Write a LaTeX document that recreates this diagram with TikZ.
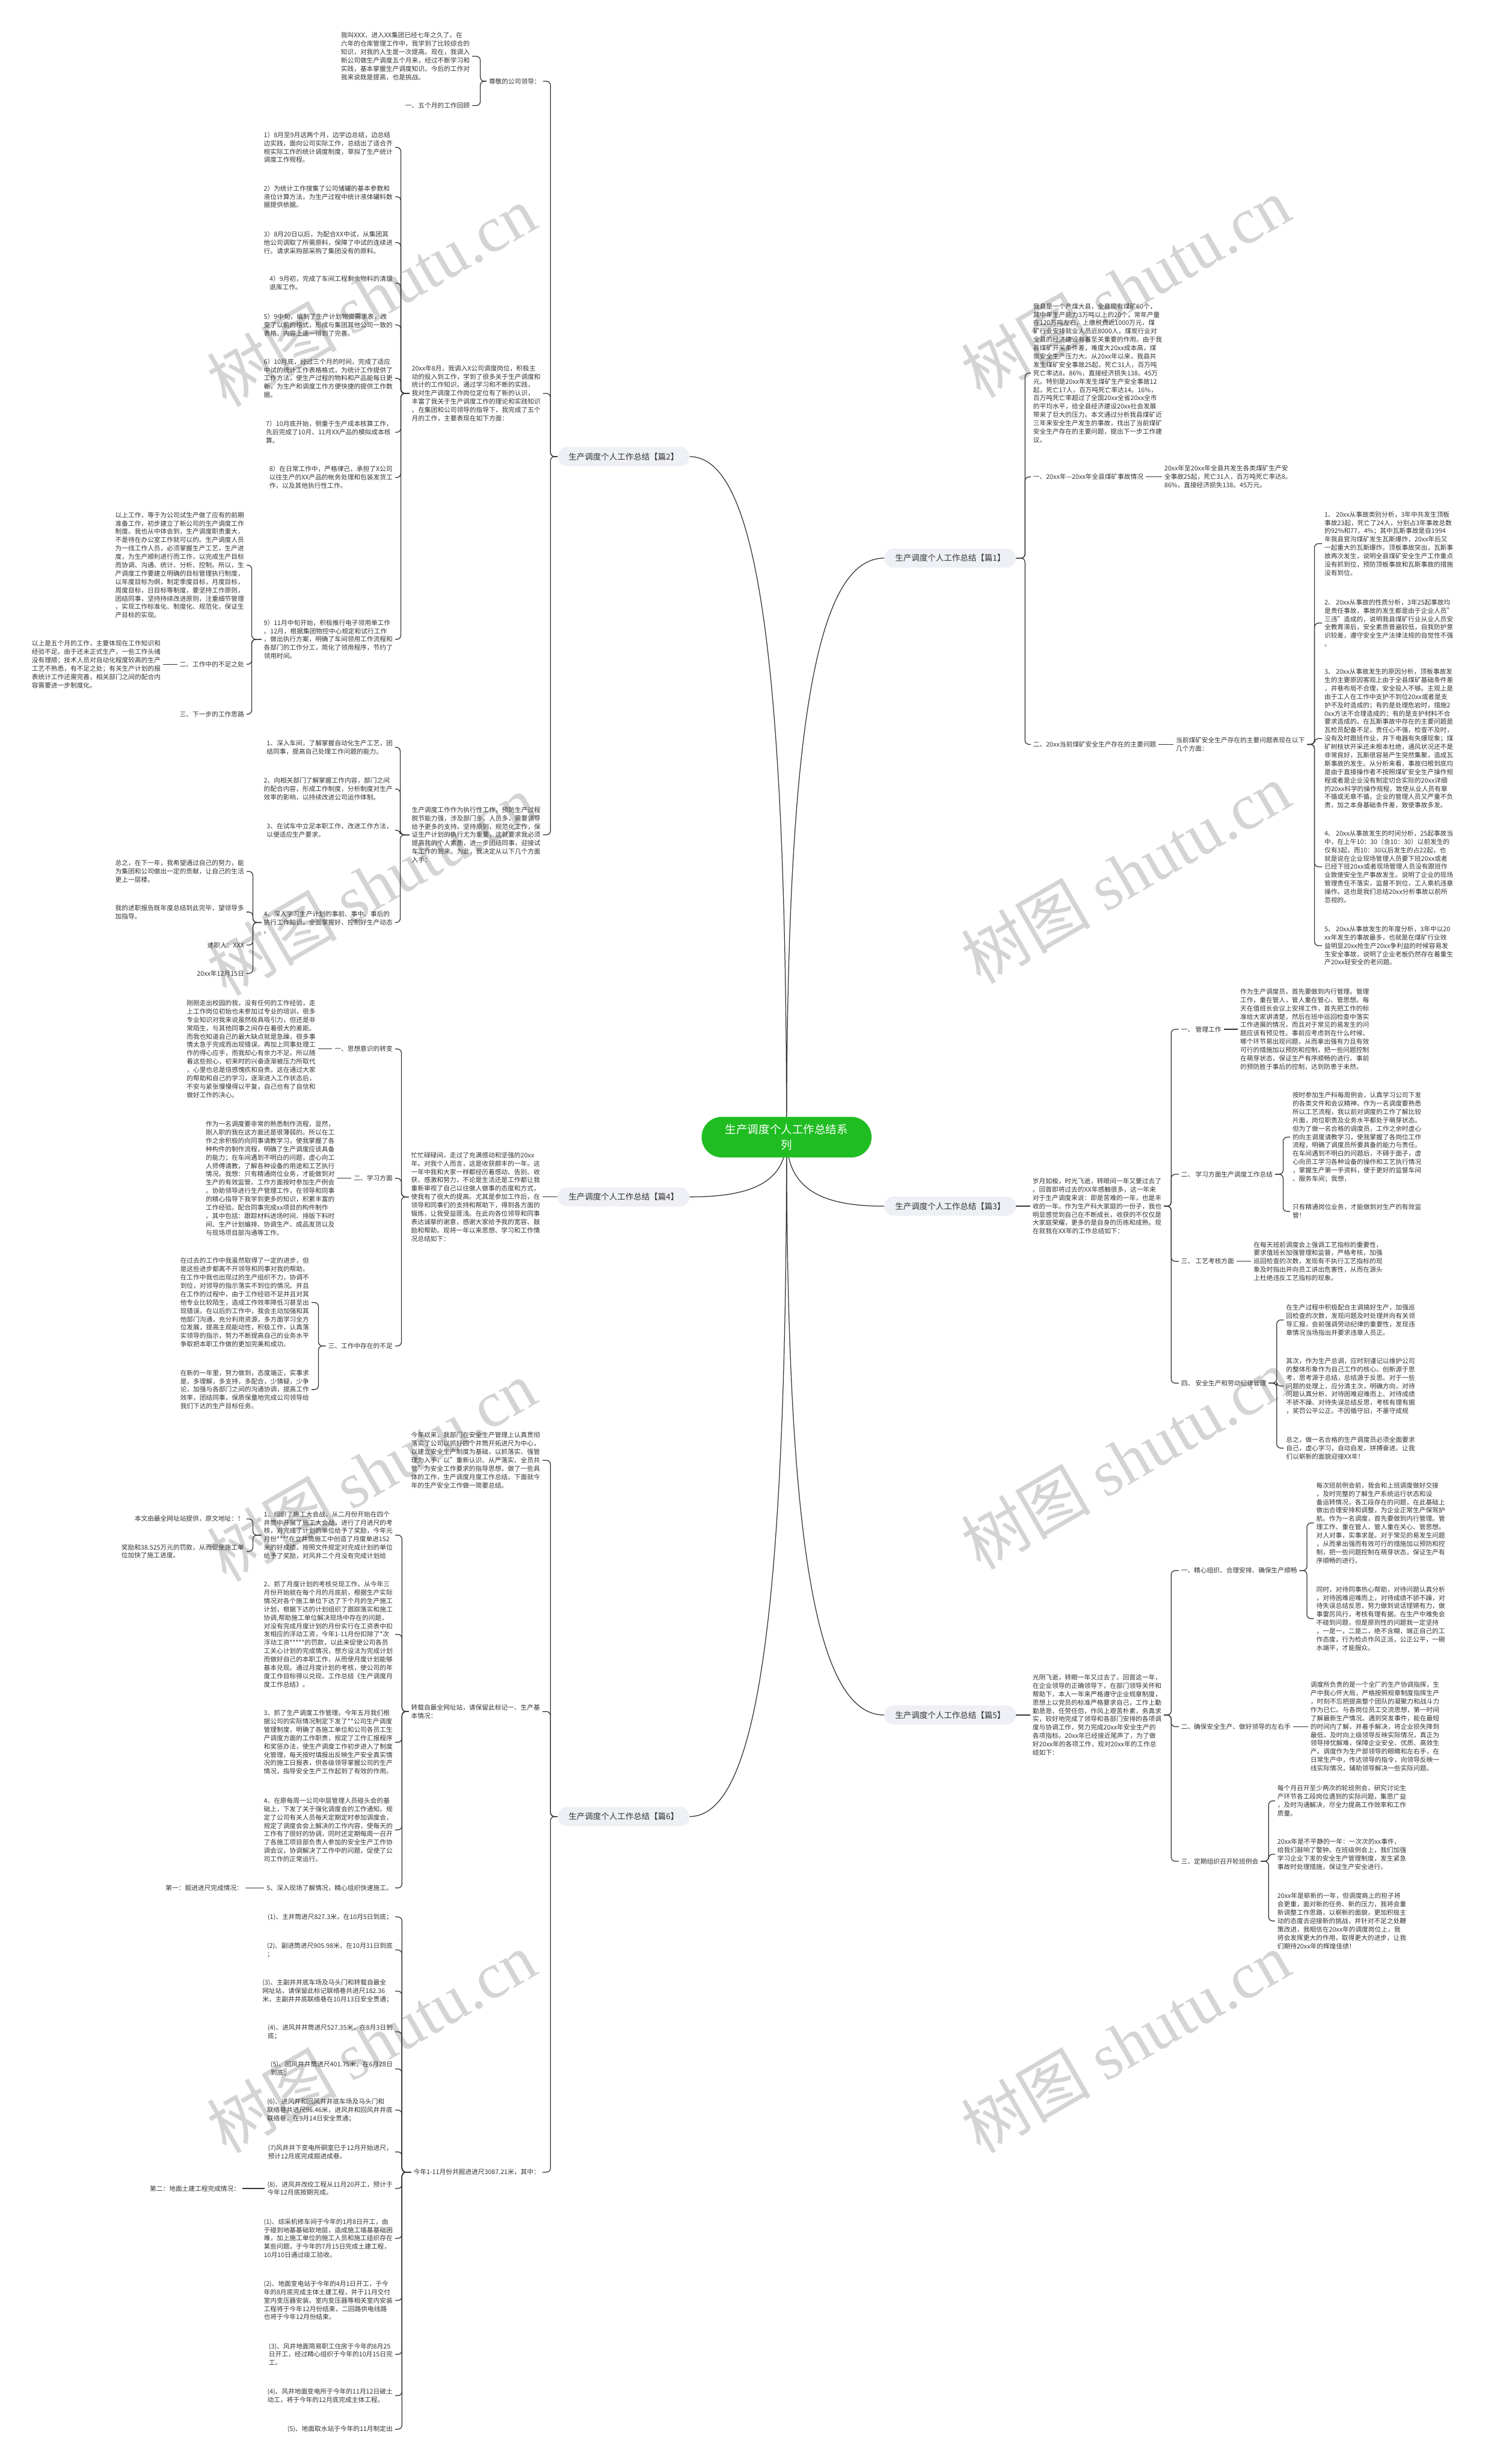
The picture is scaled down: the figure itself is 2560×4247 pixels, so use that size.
\documentclass[tikz,border=0pt]{standalone}
\usepackage{fontspec}
\setmainfont{Noto Sans CJK SC}
\newfontfamily\wmserif{Liberation Serif}
\usetikzlibrary{calc,backgrounds}
\definecolor{tc}{HTML}{333333}
\definecolor{lc}{HTML}{333333}
\definecolor{lonefill}{HTML}{EEF0F5}
\definecolor{cgreen}{HTML}{1FBD22}
\definecolor{wmc}{HTML}{D4D4D4}
\tikzset{
  txt/.style={font=\fontsize{11.1}{14.4}\selectfont, text=tc, align=left, inner xsep=4pt, inner ysep=1pt},
  lvlone/.style={rounded corners=16pt, fill=lonefill, minimum width=227pt, minimum height=33pt, font=\fontsize{14}{16}\selectfont, text=tc, inner sep=0pt},
  rootnode/.style={rounded corners=35pt, fill=cgreen, minimum width=293pt, minimum height=70pt, font=\fontsize{19.2}{27}\selectfont, text=white, align=center},
  conn/.style={draw=lc, line width=1.3pt, rounded corners=7pt},
  curveline/.style={draw=lc, line width=1.3pt},
  wmark/.style={text=wmc, rotate=30, inner sep=0pt}
}
\newcommand\lconn[3]{\draw[conn] (#1.west) -- (#1.west -| #3) |- (#2.east);}
\newcommand\rconn[3]{\draw[conn] (#1.east) -- (#1.east -| #3) |- (#2.west);}
\newcommand\wmtext{{\fontsize{112}{112}\selectfont 树图 {\wmserif shutu.cn}}}
\begin{document}
\begin{tikzpicture}[x=1pt,y=-1pt]
\useasboundingbox (0,0) rectangle (2560,4247);
% bracket x coordinates
\coordinate (b2) at (949,0);
\coordinate (ba1) at (828,0);
\coordinate (ba2) at (691,0);
\coordinate (bi9) at (434,0);
\coordinate (ba3) at (690,0);
\coordinate (bc4) at (436,0);
\coordinate (bp4) at (692,0);
\coordinate (bk3) at (549,0);
\coordinate (b6) at (949,0);
\coordinate (bq2) at (693,0);
\coordinate (br1) at (436,0);
\coordinate (bq3) at (693,0);
\coordinate (b1) at (1767,0);
\coordinate (be3) at (2266,0);
\coordinate (bg) at (2019,0);
\coordinate (bg2) at (2212,0);
\coordinate (bg4) at (2201,0);
\coordinate (bh) at (2019,0);
\coordinate (bh1) at (2253,0);
\coordinate (bh3) at (2187,0);

% ---------- main nodes ----------
\node[rootnode] (C) at (1356,1960) {生产调度个人工作总结系\\列};
\node[lvlone] (L2) at (1075,787) {生产调度个人工作总结【篇2】};
\node[lvlone] (L4) at (1075,2063) {生产调度个人工作总结【篇4】};
\node[lvlone] (L6) at (1075,3131) {生产调度个人工作总结【篇6】};
\node[lvlone] (R1) at (1638,962) {生产调度个人工作总结【篇1】};
\node[lvlone] (R3) at (1638,2079) {生产调度个人工作总结【篇3】};
\node[lvlone] (R5) at (1638,2956) {生产调度个人工作总结【篇5】};

% ---------- 篇2 ----------
\node[txt,anchor=east] (a1) at (936,140) {尊敬的公司领导：};
\node[txt,anchor=east] (a2) at (936,678) {20xx年8月，我调入X公司调度岗位，积极主\\动的投入到工作，学到了很多关于生产调度和\\统计的工作知识。通过学习和不断的实践，\\我对生产调度工作岗位定位有了新的认识，\\丰富了我关于生产调度工作的理论和实践知识\\。在集团和公司领导的指导下，我完成了五个\\月的工作，主要表现在如下方面：};
\node[txt,anchor=east] (a3) at (936,1439) {生产调度工作作为执行性工作，预防生产过程\\脱节能力强，涉及部门多，人员多，需要领导\\给予更多的支持。坚持原则，规范化工作，保\\证生产计划的执行尤为重要，这就要求我必须\\提高我的个人素质，进一步团结同事，迎接试\\车工作的到来。为此，我决定从以下几个方面\\入手：};
\node[txt,anchor=east] (a1a) at (814,97) {我叫XXX，进入XX集团已经七年之久了。在\\六年的仓库管理工作中，我学到了比较综合的\\知识，对我的人生是一次提高。现在，我调入\\新公司做生产调度五个月来，经过不断学习和\\实践，基本掌握生产调度知识。今后的工作对\\我来说既是提高，也是挑战。};
\node[txt,anchor=east] (a1b) at (814,182) {一、五个月的工作回顾};
\node[txt,anchor=east] (i1) at (681,254) {1）8月至9月这两个月，边学边总结，边总结\\边实践，面向公司实际工作，总结出了适合齐\\桓实际工作的统计调度制度，草拟了生产统计\\调度工作规程。};
\node[txt,anchor=east] (i2) at (681,339) {2）为统计工作搜集了公司储罐的基本参数和\\液位计算方法，为生产过程中统计液体罐料数\\据提供依据。};
\node[txt,anchor=east] (i3) at (681,418) {3）8月20日以后，为配合XX中试，从集团其\\他公司调取了所需原料，保障了中试的连续进\\行。请求采购部采购了集团没有的原料。};
\node[txt,anchor=east] (i4) at (681,488) {4）9月初，完成了车间工程剩余物料的清理\\退库工作。};
\node[txt,anchor=east] (i5) at (681,560) {5）9中旬，编制了生产计划物资需求表，改\\变了以前的格式，形成与集团其他公司一致的\\表格。内容上逐一得到了完善。};
\node[txt,anchor=east] (i6) at (681,652) {6）10月底，经过三个月的时间，完成了适应\\中试的统计工作表格格式，为统计工作提供了\\工作方法，使生产过程的物料和产品能每日更\\新，为生产和调度工作方便快捷的提供工作数\\据。};
\node[txt,anchor=east] (i7) at (681,745) {7）10月底开始，侧重于生产成本核算工作，\\先后完成了10月、11月XX产品的模拟成本核\\算。};
\node[txt,anchor=east] (i8) at (681,823) {8）在日常工作中，严格律己，承担了X公司\\以往生产的XX产品的帐务处理和包装发货工\\作，以及其他执行性工作。};
\node[txt,anchor=east] (i9) at (681,1102) {9）11月中旬开始，积极推行电子领用单工作\\。12月，根据集团物控中心规定和试行工作\\，做出执行方案，明确了车间领用工作流程和\\各部门的工作分工，简化了领用程序，节约了\\领用时间。};
\node[txt,anchor=east] (j1) at (425,974) {以上工作，等于为公司试生产做了应有的前期\\准备工作，初步建立了新公司的生产调度工作\\制度。我也从中体会到，生产调度职责重大，\\不是待在办公室工作就可以的。生产调度人员\\为一线工作人员，必须掌握生产工艺，生产进\\度，为生产顺利进行而工作，以完成生产目标\\而协调、沟通、统计、分析、控制。所以，生\\产调度工作要建立明确的目标管理执行制度，\\以年度目标为纲，制定季度目标，月度目标，\\周度目标，日目标等制度，要坚持工作原则，\\团结同事，坚持持续改进原则，注重细节管理\\，实现工作标准化、制度化、规范化，保证生\\产目标的实现。};
\node[txt,anchor=east] (j2) at (425,1145) {二、工作中的不足之处};
\node[txt,anchor=east] (j3) at (425,1231) {三、下一步的工作思路};
\node[txt,anchor=east] (j2a) at (281,1145) {以上是五个月的工作，主要体现在工作知识和\\经验不足。由于还未正式生产，一些工作头绪\\没有理顺；技术人员对自动化程度较高的生产\\工艺不熟悉，有不足之处；有关生产计划的报\\表统计工作还需完善，相关部门之间的配合内\\容需要进一步制度化。};
\node[txt,anchor=east] (c1) at (681,1288) {1、深入车间，了解掌握自动化生产工艺，团\\结同事，提高自己处理工作问题的能力。};
\node[txt,anchor=east] (c2) at (681,1360) {2、向相关部门了解掌握工作内容，部门之间\\的配合内容，形成工作制度，分析制度对生产\\效率的影响，以持续改进公司运作体制。};
\node[txt,anchor=east] (c3) at (681,1431) {3、在试车中立足本职工作，改进工作方法，\\以便适应生产要求。};
\node[txt,anchor=east] (c4) at (681,1590) {4、深入学习生产计划的事前、事中、事后的\\执行工作知识，全面掌握好、控制好生产动态\\。};
\node[txt,anchor=east] (d1) at (425,1502) {总之，在下一年，我希望通过自己的努力，能\\为集团和公司做出一定的贡献，让自己的生活\\更上一层楼。};
\node[txt,anchor=east] (d2) at (425,1572) {我的述职报告既年度总结到此完毕，望领导多\\加指导。};
\node[txt,anchor=east] (d3) at (425,1629) {述职人：XXX};
\node[txt,anchor=east] (d4) at (425,1678) {20xx年12月15日};

% ---------- 篇4 ----------
\node[txt,anchor=east] (p4) at (935,2063) {忙忙碌碌间，走过了充满感动和坚强的20xx\\年。对我个人而言，这是收获颇丰的一年。这\\一年中我和大家一样都经历着感动、告别、收\\获、感激和努力，不论是生活还是工作都让我\\重新审视了自己以往做人做事的态度和方式，\\使我有了很大的提高。尤其是参加工作后，在\\领导和同事们的支持和帮助下，得到各方面的\\锻炼，让我受益匪浅。在此向各位领导和同事\\表达诚挚的谢意，感谢大家给予我的宽容、鼓\\励和帮助。现将一年以来思想、学习和工作情\\况总结如下：};
\node[txt,anchor=east] (k1) at (681,1808) {一、思想意识的转变};
\node[txt,anchor=east] (k2) at (681,2031) {二、学习方面};
\node[txt,anchor=east] (k3) at (681,2320) {三、工作中存在的不足};
\node[txt,anchor=east] (k1a) at (548,1808) {刚刚走出校园的我，没有任何的工作经验，走\\上工作岗位初始也未参加过专业的培训，很多\\专业知识对我来说虽然极具吸引力，但还是非\\常陌生，与其他同事之间存在着很大的差距。\\而我也知道自己的最大缺点就是急躁，很多事\\情太急于完成而出现错误。再加上同事处理工\\作的得心应手，而我却心有余力不足。所以随\\着这些担心，初来时的兴奋逐渐被压力所取代\\，心里也总是倍感愧疚和自责。这在通过大家\\的帮助和自己的学习，逐渐进入工作状态后，\\不安与紧张慢慢得以平复，自己也有了自信和\\做好工作的决心。};
\node[txt,anchor=east] (k2a) at (581,2031) {作为一名调度要非常的熟悉制作流程，显然，\\刚入职的我在这方面还是很薄弱的。所以在工\\作之余积极的向同事请教学习，使我掌握了各\\种构件的制作流程，明确了生产调度应该具备\\的能力；在车间遇到不明白的问题，虚心向工\\人师傅请教，了解各种设备的用途和工艺执行\\情况。我想：只有精通岗位业务，才能做到对\\生产的有效监管。工作方面按时参加生产例会\\。协助领导进行生产管理工作，在领导和同事\\的精心指导下我学到更多的知识，积累丰富的\\工作经验。配合同事完成xx项目的构件制作\\。其中包括：跟踪材料进场时间、排版下料时\\间、生产计划编排、协调生产、成品发货以及\\与现场项目部沟通等工作。};
\node[txt,anchor=east] (k3a) at (537,2245) {在过去的工作中我虽然取得了一定的进步，但\\是这些进步都离不开领导和同事对我的帮助。\\在工作中我也出现过的生产组织不力，协调不\\到位，对领导的指示落实不到位的情况。并且\\在工作的过程中，由于工作经验不足并且对其\\他专业比较陌生，造成工作效率降低习甚至出\\现错误。在以后的工作中，我会主动加强和其\\他部门沟通，充分利用资源，多方面学习全方\\位发展，提高主观能动性，积极工作，认真落\\实领导的指示，努力不断提高自己的业务水平\\争取把本职工作做的更加完美和成功。};
\node[txt,anchor=east] (k3b) at (537,2395) {在新的一年里，努力做到，态度端正，实事求\\是，多理解，多支持，多配合，少猜疑，少争\\论，加强与各部门之间的沟通协调，提高工作\\效率，团结同事，保质保量地完成公司领导给\\我们下达的生产目标任务。};

% ---------- 篇6 ----------
\node[txt,anchor=east] (q1) at (935,2517) {今年以来，我部门在安全生产管理上认真贯彻\\落实了公司以抓好四个井筒开拓进尺为中心，\\以建立安全生产制度为基础，以抓落实、强管\\理为入手，以"重新认识、从严落实、全员共\\管"为安全工作要求的指导思想，做了一些具\\体的工作，生产调度月度工作总结。下面就今\\年的生产安全工作做一简要总结。};
\node[txt,anchor=east] (q2) at (935,2950) {转载自最全网址站，请保留此标记一、生产基\\本情况：};
\node[txt,anchor=east] (q3) at (935,3744) {今年1-11月份共掘进进尺3087.21米，其中：};
\node[txt,anchor=east] (r1) at (681,2646) {1、组织了施工大会战。从二月份开始在四个\\井筒中开展了施工大会战，进行了月进尺的考\\核，对完成了计划的单位给予了奖励，今年元\\月份****在立井筒施工中创造了月度单进152\\米的好成绩，按照文件规定对完成计划的单位\\给予了奖励，对风井二个月没有完成计划给};
\node[txt,anchor=east] (r2) at (681,2817) {2、抓了月度计划的考核兑现工作。从今年三\\月份开始就在每个月的月底前，根据生产实际\\情况对各个施工单位下达了下个月的生产施工\\计划，根据下达的计划组织了跟踪落实和施工\\协调,帮助施工单位解决现场中存在的问题，\\对没有完成月度计划的月份实行在工资表中扣\\发相应的浮动工资，今年1-11月份扣除了*次\\浮动工资*****的罚款，以此来促使公司各员\\工关心计划的完成情况，想方设法为完成计划\\而做好自己的本职工作，从而使月度计划能够\\基本兑现。通过月度计划的考核，使公司的年\\度工作目标得以兑现，工作总结《生产调度月\\度工作总结》。};
\node[txt,anchor=east] (r3) at (681,3003) {3、抓了生产调度工作管理。今年五月我们根\\据公司的实际情况制定下发了**公司生产调度\\管理制度，明确了各施工单位和公司各员工生\\产调度方面的工作职责，规定了工作汇报程序\\和奖惩办法，使生产调度工作初步进入了制度\\化管理，每天按时填报出反映生产安全真实情\\况的施工日报表，供各级领导掌握公司的生产\\情况，指导安全生产工作起到了有效的作用。};
\node[txt,anchor=east] (r4) at (681,3154) {4、在原每周一公司中层管理人员碰头会的基\\础上，下发了关于强化调度会的工作通知。规\\定了公司有关人员每天定期定时参加调度会，\\规定了调度会会上解决的工作内容，使每天的\\工作有了很好的协调，同时还定期每周一召开\\了各施工项目部负责人参加的安全生产工作协\\调会议，协调解决了工作中的问题，促使了公\\司工作的正常运行。};
\node[txt,anchor=east] (r5) at (681,3254) {5、深入现场了解情况，精心组织快速施工。};
\node[txt,anchor=east] (r1a) at (425,2618) {本文由最全网址站提供，原文地址：！};
\node[txt,anchor=east] (r1b) at (425,2674) {奖励和38.525万元的罚款，从而促使施工单\\位加快了施工进度。};
\node[txt,anchor=east] (r5a) at (423,3254) {第一：掘进进尺完成情况：};
\node[txt,anchor=east] (s1) at (681,3304) {(1)、主井筒进尺827.3米，在10月5日到底；};
\node[txt,anchor=east] (s2) at (681,3361) {(2)、副进筒进尺905.98米，在10月31日到底\\；};
\node[txt,anchor=east] (s3) at (681,3432) {(3)、主副井井底车场及马头门和转载自最全\\网址站，请保留此标记联络巷共进尺182.36\\米，主副井井底联络巷在10月13日安全贯通；};
\node[txt,anchor=east] (s4) at (681,3502) {(4)、进风井井筒进尺527.35米，在8月3日到\\底；};
\node[txt,anchor=east] (s5) at (681,3566) {(5)、回风井井筒进尺401.75米，在6月28日\\到底；};
\node[txt,anchor=east] (s6) at (681,3637) {(6)、进风井和回风井井底车场及马头门和\\联络巷共进尺96.46米，进风井和回风井井底\\联络巷，在9月14日安全贯通；};
\node[txt,anchor=east] (s7) at (681,3709) {(7)风井井下变电所硐室已于12月开始进尺，\\预计12月底完成掘进成巷。};
\node[txt,anchor=east] (s8) at (681,3772) {(8)、进风井改绞工程从11月20开工，预计于\\今年12月底按期完成。};
\node[txt,anchor=east] (s9) at (681,3858) {(1)、综采机修车间于今年的1月8日开工，由\\于碰到地基基础软地层，造成施工墙基基础困\\难，加上施工单位的施工人员和施工组织存在\\某些问题，于今年的7月15日完成土建工程，\\10月10日通过竣工验收。};
\node[txt,anchor=east] (s10) at (681,3965) {(2)、地面变电站于今年的4月1日开工，于今\\年的8月底完成主体土建工程，并于11月交付\\室内变压器安装。室内变压器等相关室内安装\\工程将于今年12月份结束，二回路供电线路\\也将于今年12月份结束。};
\node[txt,anchor=east] (s11) at (681,4058) {(3)、风井地面简易职工住房于今年的8月25\\日开工，经过精心组织于今年的10月15日完\\工。};
\node[txt,anchor=east] (s12) at (681,4129) {(4)、风井地面变电所于今年的11月12日破土\\动工，将于今年的12月底完成主体工程。};
\node[txt,anchor=east] (s13) at (681,4187) {(5)、地面取水站于今年的11月制定出};
\node[txt,anchor=east] (s8a) at (418,3772) {第二：地面土建工程完成情况：};

% ---------- 篇1 ----------
\node[txt,anchor=west] (e1) at (1777,643) {我县是一个产煤大县，全县现有煤矿60个，\\其中年生产能力3万吨以上的20个，常年产量\\在120万吨左右，上缴税费近1000万元，煤\\矿行业安排就业人员近8000人，煤炭行业对\\全县的经济建设有着至关重要的作用。由于我\\县煤矿开采条件差，难度大20xx成本高，煤\\炭安全生产压力大。从20xx年以来，我县共\\发生煤矿安全事故25起，死亡31人，百万吨\\死亡率达8。86\%，直接经济损失138。45万\\元。特别是20xx年发生煤矿生产安全事故12\\起，死亡17人，百万吨死亡率达14。16\%，\\百万吨死亡率超过了全国20xx全省20xx全市\\的平均水平，给全县经济建设20xx社会发展\\带来了巨大的压力。本文通过分析我县煤矿近\\三年来安全生产发生的事故，找出了当前煤矿\\安全生产存在的主要问题，提出下一步工作建\\议。};
\node[txt,anchor=west] (e2) at (1777,822) {一、20xx年—20xx年全县煤矿事故情况};
\node[txt,anchor=west] (e3) at (1777,1283) {二、20xx当前煤矿安全生产存在的主要问题};
\node[txt,anchor=west] (e2a) at (2003,822) {20xx年至20xx年全县共发生各类煤矿生产安\\全事故25起，死亡31人，百万吨死亡率达8。\\86\%，直接经济损失138。45万元。};
\node[txt,anchor=west] (e3a) at (2023,1283) {当前煤矿安全生产存在的主要问题表现在以下\\几个方面：};
\node[txt,anchor=west] (f1) at (2279,937) {1、 20xx从事故类别分析，3年中共发生顶板\\事故23起，死亡了24人，分别占3年事故总数\\的92\%和77。4\%；其中瓦斯事故是自1994\\年我县官沟煤矿发生瓦斯爆炸，20xx年后又\\一起重大的瓦斯爆炸。顶板事故突出，瓦斯事\\故再次发生，说明全县煤矿安全生产工作重点\\没有抓到位，预防顶板事故和瓦斯事故的措施\\没有到位。};
\node[txt,anchor=west] (f2) at (2279,1074) {2、 20xx从事故的性质分析，3年25起事故均\\是责任事故，事故的发生都是由于企业人员"\\三违"造成的，说明我县煤矿行业从业人员安\\全教育滞后，安全素质普遍较低，自我防护意\\识较差，遵守安全生产法律法规的自觉性不强\\。};
\node[txt,anchor=west] (f3) at (2279,1273) {3、 20xx从事故发生的原因分析，顶板事故发\\生的主要原因客观上由于全县煤矿基础条件差\\，井巷布局不合理，安全投入不够。主观上是\\由于工人在工作中支护不到位20xx或者是支\\护不及时造成的；有的是处理危岩时，措施2\\0xx方法不合理造成的；有的是支护材料不合\\要求造成的。在瓦斯事故中存在的主要问题是\\瓦检员配备不足，责任心不强，检查不及时，\\没有及时跟班作业，井下电器有失爆现象；煤\\矿树枝状开采还未根本杜绝，通风状况还不是\\非常良好，瓦斯很容易产生突然集聚，造成瓦\\斯事故的发生。从分析来看，事故归根到底均\\是由于直接操作者不按照煤矿安全生产操作规\\程或者是企业没有制定切合实际的20xx详细\\的20xx科学的操作规程，致使从业人员有章\\不循或无章不循，企业的管理人员又严重不负\\责，加之本身基础条件差，致使事故多发。};
\node[txt,anchor=west] (f4) at (2279,1494) {4、 20xx从事故发生的时间分析，25起事故当\\中，在上午10：30（含10：30）以前发生的\\仅有3起，而10：30以后发生的占22起，也\\就是说在企业现场管理人员要下班20xx或者\\已经下班20xx或者现场管理人员没有跟班作\\业致使安全生产事故发生。说明了企业的现场\\管理责任不落实，监督不到位，工人乘机违章\\操作。这也是我们总结20xx分析事故以前所\\忽视的。};
\node[txt,anchor=west] (f5) at (2279,1630) {5、 20xx从事故发生的年度分析，3年中以20\\xx年发生的事故最多，也就是在煤矿行业效\\益明显20xx抢生产20xx争利益的时候容易发\\生安全事故，说明了企业老板仍然存在着重生\\产20xx轻安全的老问题。};

% ---------- 篇3 ----------
\node[txt,anchor=west] (g) at (1776,2079) {岁月如梭，时光飞逝，转眼间一年又要过去了\\。回首即将过去的XX年感触很多，这一年来\\对于生产调度来说：即是苦难的一年，也是丰\\收的一年。作为生产科大家庭的一份子，我也\\明显感觉到自己在不断成长，收获的不仅仅是\\大家庭荣耀，更多的是自身的历练和成熟。现\\在就我在XX年的工作总结如下：};
\node[txt,anchor=west] (g1) at (2032,1774) {一、 管理工作};
\node[txt,anchor=west] (g2) at (2032,2024) {二、 学习方面生产调度工作总结};
\node[txt,anchor=west] (g3) at (2032,2174) {三、 工艺考核方面};
\node[txt,anchor=west] (g4) at (2032,2384) {四、 安全生产和劳动纪律管理};
\node[txt,anchor=west] (g1a) at (2134,1774) {作为生产调度员，首先要做到内行管理。管理\\工作，重在管人，管人重在管心、管思想。每\\天在值班长会议上安排工作，首先把工作的标\\准给大家讲清楚，然后在班中巡回检查中落实\\工作进展的情况，而且对于常见的易发生的问\\题应该有预见性。事前应考虑到在什么时候、\\哪个环节易出现问题，从而拿出强有力且有效\\可行的措施加以预防和控制，把一些问题控制\\在萌芽状态，保证生产有序顺畅的进行。事前\\的预防胜于事后的控制，达到防患于未然。};
\node[txt,anchor=west] (g2a) at (2224,1960) {按时参加生产科每周例会，认真学习公司下发\\的各类文件和会议精神。作为一名调度要熟悉\\所以工艺流程，我以前对调度的工作了解比较\\片面，岗位职责及业务水平都处于萌芽状态。\\但为了做一名合格的调度员，工作之余时虚心\\的向主调度请教学习，使我掌握了各岗位工作\\流程，明确了调度员所要具备的能力与责任。\\在车间遇到不明白的问题后，不碍于面子，虚\\心向员工学习各种设备的操作和工艺执行情况\\，掌握生产第一手资料，便于更好的监督车间\\、服务车间；我想，};
\node[txt,anchor=west] (g2b) at (2224,2088) {只有精通岗位业务，才能做到对生产的有效监\\管！};
\node[txt,anchor=west] (g3a) at (2157,2174) {在每天班前调度会上强调工艺指标的重要性，\\要求值班长加强管理和监督，严格考核，加强\\巡回检查的次数，发现有不执行工艺指标的现\\象及时指出并向员工讲出危害性，从而在源头\\上杜绝违反工艺指标的现象。};
\node[txt,anchor=west] (g4a) at (2213,2275) {在生产过程中积极配合主调搞好生产，加强巡\\回检查的次数，发现问题及时处理并向有关领\\导汇报，会前强调劳动纪律的重要性，发现违\\章情况当场指出并要求违章人员正。};
\node[txt,anchor=west] (g4b) at (2213,2389) {其次，作为生产总调，应时刻谨记以维护公司\\的整体形象作为自己工作的核心。创新源于思\\考，思考源于总结，总结源于反思。对于一些\\问题的处理上，应分清主次，明确方向，对待\\问题认真分析、对待困难迎难而上、对待成绩\\不骄不躁、对待失误总结反思，考核有理有据\\，奖罚公平公正。不因循守旧，不墨守成规};
\node[txt,anchor=west] (g4c) at (2213,2496) {总之，做一名合格的生产调度员必须全面要求\\自己，虚心学习，自动自发，拼搏奋进。让我\\们以崭新的面貌迎接XX年！};

% ---------- 篇5 ----------
\node[txt,anchor=west] (h) at (1776,2956) {光阴飞逝，转眼一年又过去了。回首这一年，\\在企业领导的正确领导下，在部门领导关怀和\\帮助下，本人一年来严格遵守企业规章制度，\\思想上以党员的标准严格要求自己，工作上勤\\勤恳恳，任劳任怨，作风上艰苦朴素，务真求\\实，较好地完成了领导和各部门安排的各项调\\度与协调工作，努力完成20xx年安全生产的\\各项指标。20xx年已经接近尾声了，为了做\\好20xx年的各项工作，现对20xx年的工作总\\结如下：};
\node[txt,anchor=west] (h1) at (2032,2707) {一、精心组织、合理安排、确保生产顺畅};
\node[txt,anchor=west] (h2) at (2032,2976) {二、确保安全生产、做好领导的左右手};
\node[txt,anchor=west] (h3) at (2032,3208) {三、定期组织召开轮班例会};
\node[txt,anchor=west] (h1a) at (2265,2625) {每次班前例会前，我会和上班调度做好交接\\，及时完整的了解生产系统运行状态和设\\备运转情况，各工段存在的问题，在此基础上\\做出合理安排和调整，为企业正常生产保驾护\\航。作为一名调度，首先要做到内行管理。管\\理工作、重在管人、管人重在关心、管思想。\\对人对事，实事求是。对于常见的易发生问题\\，从而拿出强而有效可行的措施加以预防和控\\制，把一些问题控制在萌芽状态，保证生产有\\序顺畅的进行。};
\node[txt,anchor=west] (h1b) at (2265,2790) {同时，对待同事热心帮助，对待问题认真分析\\，对待困难迎难而上，对待成绩不骄不躁，对\\待失误总结反思，努力做到说话铿锵有力，做\\事雷厉风行，考核有理有据。在生产中难免会\\不碰到问题，但是原则性的问题我一定坚持\\，一是一，二是二，绝不含糊，端正自己的工\\作态度，行为检点作风正派，公正公平，一碗\\水端平，才能服众。};
\node[txt,anchor=west] (h2a) at (2255,2976) {调度所负责的是一个全厂的生产协调指挥，生\\产中我心怀大局，严格按照规章制度指挥生产\\，时刻不忘把提高整个团队的凝聚力和战斗力\\作为已仁。与各岗位员工交流思想，第一时间\\了解最新生产情况。遇到突发事件，能在最短\\的时间内了解，并着手解决，将企业损失降到\\最低，及时向上级领导反映实际情况，真正为\\领导排忧解难，保障企业安全、优质、高效生\\产。调度作为生产部领导的眼睛和左右手，在\\日常生产中，传达领导的指令，向领导反映一\\线实际情况，辅助领导解决一些实际问题。};
\node[txt,anchor=west] (h3a) at (2198,3104) {每个月召开至少两次的轮班例会，研究讨论生\\产环节各工段岗位遇到的实际问题，集思广益\\，及时沟通解决，尽全力提高工作效率和工作\\质量。};
\node[txt,anchor=west] (h3b) at (2198,3196) {20xx年是不平静的一年：一次次的xx事件，\\给我们敲响了警钟。在班级例会上，我们加强\\学习企业下发的安全生产管理制度，发生紧急\\事故时处理措施，保证生产安全进行。};
\node[txt,anchor=west] (h3c) at (2198,3311) {20xx年是崭新的一年，但调度肩上的担子将\\会更重，面对新的任务、新的压力，我将会重\\新调整工作思路，以崭新的面貌，更加积极主\\动的态度去迎接新的挑战，并针对不足之处鞭\\策改进，我相信在20xx年的调度岗位上，我\\将会发挥更大的作用，取得更大的进步，让我\\们期待20xx年的辉煌佳绩！};

% ---------- background: page, watermarks, connectors ----------
\begin{scope}[on background layer]
\fill[white] (0,0) rectangle (2560,4247);
\foreach \wy in {510,1525,2535,3520} {\node[wmark] (wl\wy) at (640,\wy) {\wmtext};}
\foreach \wy in {495,1505,2515,3520} {\node[wmark] (wr\wy) at (1940,\wy) {\wmtext};}
\foreach \n in {L2,L4,L6}
  \draw[curveline] (\n.east) .. controls ($(\n.east)!0.67!(\n.east -| C)$) and ($(C |- \n.east)!0.27!(C)$) .. (C.center);
\foreach \n in {R1,R3,R5}
  \draw[curveline] (\n.west) .. controls ($(\n.west)!0.67!(\n.west -| C)$) and ($(C |- \n.west)!0.27!(C)$) .. (C.center);

\lconn{L2}{a1}{b2} \lconn{L2}{a2}{b2} \lconn{L2}{a3}{b2}
\lconn{a1}{a1a}{ba1} \lconn{a1}{a1b}{ba1}
\foreach \c in {i1,i2,i3,i4,i5,i6,i7,i8,i9} {\lconn{a2}{\c}{ba2}}
\foreach \c in {j1,j2,j3} {\lconn{i9}{\c}{bi9}}
\draw[conn] (j2.west) -- (j2a.east);
\foreach \c in {c1,c2,c3,c4} {\lconn{a3}{\c}{ba3}}
\foreach \c in {d1,d2,d3,d4} {\lconn{c4}{\c}{bc4}}
\draw[conn] (L4.west) -- (p4.east);
\foreach \c in {k1,k2,k3} {\lconn{p4}{\c}{bp4}}
\draw[conn] (k1.west) -- (k1a.east);
\draw[conn] (k2.west) -- (k2a.east);
\lconn{k3}{k3a}{bk3} \lconn{k3}{k3b}{bk3}
\lconn{L6}{q1}{b6} \lconn{L6}{q2}{b6} \lconn{L6}{q3}{b6}
\foreach \c in {r1,r2,r3,r4,r5} {\lconn{q2}{\c}{bq2}}
\lconn{r1}{r1a}{br1} \lconn{r1}{r1b}{br1}
\draw[conn] (r5.west) -- (r5a.east);
\foreach \c in {s1,s2,s3,s4,s5,s6,s7,s8,s9,s10,s11,s12,s13} {\lconn{q3}{\c}{bq3}}
\draw[conn] (s8.west) -- (s8a.east);

\rconn{R1}{e1}{b1} \rconn{R1}{e2}{b1} \rconn{R1}{e3}{b1}
\draw[conn] (e2.east) -- (e2a.west);
\draw[conn] (e3.east) -- (e3a.west);
\foreach \c in {f1,f2,f3,f4,f5} {\rconn{e3a}{\c}{be3}}
\draw[conn] (R3.east) -- (g.west);
\foreach \c in {g1,g2,g3,g4} {\rconn{g}{\c}{bg}}
\draw[conn] (g1.east) -- (g1a.west);
\rconn{g2}{g2a}{bg2} \rconn{g2}{g2b}{bg2}
\draw[conn] (g3.east) -- (g3a.west);
\foreach \c in {g4a,g4b,g4c} {\rconn{g4}{\c}{bg4}}
\draw[conn] (R5.east) -- (h.west);
\foreach \c in {h1,h2,h3} {\rconn{h}{\c}{bh}}
\rconn{h1}{h1a}{bh1} \rconn{h1}{h1b}{bh1}
\draw[conn] (h2.east) -- (h2a.west);
\foreach \c in {h3a,h3b,h3c} {\rconn{h3}{\c}{bh3}}
\end{scope}
\end{tikzpicture}
\end{document}
